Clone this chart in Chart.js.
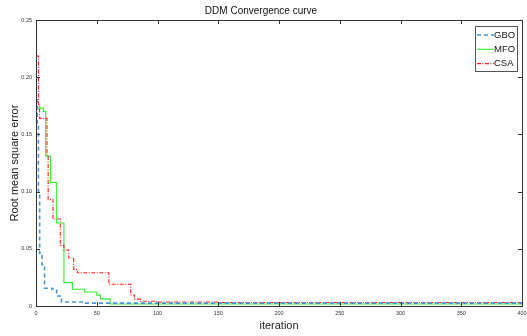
<!DOCTYPE html>
<html>
<head>
<meta charset="utf-8">
<script src="https://cdn.jsdelivr.net/npm/chart.js@4"></script>
<style>
  html, body { margin: 0; padding: 0; background: #fff; }
  #wrap { width: 527px; height: 336px; }
</style>
</head>
<body>
<div id="wrap"><canvas id="chart" width="527" height="336"></canvas></div>
<script>
const xTicks = [0, 50, 100, 150, 200, 250, 300, 350, 400];
const yTicks = [0, 0.05, 0.1, 0.15, 0.2, 0.25];

// iteration where the best value changes, and the new value
const gboIter = [0, 1, 2, 3, 5, 7, 13, 17, 21, 40, 400];
const gboRmse = [0.18, 0.16, 0.1, 0.046, 0.036, 0.0155, 0.0148, 0.0087, 0.0035, 0.0025, 0.0018];

const mfoIter = [0, 6, 8, 12, 17, 23, 30, 40, 50, 53, 61, 400];
const mfoRmse = [0.173, 0.17, 0.131, 0.108, 0.0725, 0.0204, 0.0146, 0.0122, 0.0095, 0.0062, 0.0018, 0.0012];

const csaIter = [0, 2, 3, 9, 10, 14, 20, 23, 27, 31, 34, 60, 78, 81, 86, 100, 150, 400];
const csaRmse = [0.2185, 0.176, 0.164, 0.132, 0.093, 0.076, 0.053, 0.049, 0.042, 0.032, 0.029, 0.019, 0.0096, 0.006, 0.0042, 0.0035, 0.003, 0.0027];

const FONT = '"Liberation Sans Narrow", "Liberation Sans", Arial, sans-serif';

const toPoints = (xs, ys) => xs.map((x, i) => ({x, y: ys[i]}));

const boxAndTicks = {
  id: 'boxAndTicks',
  afterDraw(chart) {
    const {ctx, chartArea: {left, right, top, bottom}, scales: {x, y}} = chart;
    ctx.save();
    ctx.strokeStyle = '#333';
    ctx.lineWidth = 1;
    ctx.strokeRect(Math.round(left) + 0.5, Math.round(top) + 0.5, Math.round(right - left), Math.round(bottom - top));
    ctx.beginPath();
    xTicks.forEach(v => {
      const px = Math.round(x.getPixelForValue(v)) + 0.5;
      ctx.moveTo(px, bottom); ctx.lineTo(px, bottom - 4);
      ctx.moveTo(px, top); ctx.lineTo(px, top + 4);
    });
    yTicks.forEach(v => {
      const py = Math.round(y.getPixelForValue(v)) + 0.5;
      ctx.moveTo(left, py); ctx.lineTo(left + 4, py);
      ctx.moveTo(right, py); ctx.lineTo(right - 4, py);
    });
    ctx.stroke();

    // legend box
    const lx = 475, ly = 26, lw = 42, lh = 45;
    ctx.fillStyle = '#fff';
    ctx.fillRect(lx, ly, lw, lh);
    ctx.strokeStyle = '#555';
    ctx.strokeRect(lx + 0.5, ly + 0.5, lw, lh);
    ctx.font = '9.5px ' + FONT;
    ctx.textBaseline = 'middle';
    chart.data.datasets.forEach((ds, i) => {
      const yy = ly + 9 + i * 14.3;
      ctx.strokeStyle = ds.borderColor;
      ctx.lineWidth = ds.borderWidth;
      ctx.setLineDash(ds.borderDash || []);
      ctx.beginPath();
      ctx.moveTo(lx + 2, yy); ctx.lineTo(lx + 19, yy);
      ctx.stroke();
      ctx.setLineDash([]);
      ctx.fillStyle = '#111';
      ctx.fillText(ds.label, lx + 19, yy);
    });
    ctx.restore();
  }
};

new Chart(document.getElementById('chart'), {
  type: 'line',
  data: {
    datasets: [
      {
        label: 'GBO',
        data: toPoints(gboIter, gboRmse),
        borderColor: '#4a94d8',
        borderWidth: 1.6,
        borderDash: [4, 3],
        stepped: true,
        pointRadius: 0,
        order: 0
      },
      {
        label: 'MFO',
        data: toPoints(mfoIter, mfoRmse),
        borderColor: '#2ef02e',
        borderWidth: 1.1,
        stepped: true,
        pointRadius: 0,
        order: 2
      },
      {
        label: 'CSA',
        data: toPoints(csaIter, csaRmse),
        borderColor: '#ff1f1f',
        borderWidth: 1.1,
        borderDash: [4, 1.5, 1, 1.5],
        stepped: true,
        pointRadius: 0,
        order: 1
      }
    ]
  },
  options: {
    responsive: false,
    animation: false,
    layout: {autoPadding: false, padding: {left: 0, right: 5, top: 0, bottom: 0}},
    plugins: {
      legend: {display: false},
      tooltip: {enabled: false},
      title: {
        display: true,
        text: 'DDM Convergence curve',
        color: '#111',
        font: {family: FONT, size: 10, weight: 'normal'},
        padding: {top: 5, bottom: 3}
      }
    },
    scales: {
      x: {
        type: 'linear',
        min: 0,
        max: 400,
        afterBuildTicks: s => { s.ticks = xTicks.map(value => ({value})); },
        afterFit: s => { s.height = 30; s.paddingLeft = 0; s.paddingRight = 0; },
        grid: {display: false, drawTicks: false, tickLength: 0},
        border: {display: false},
        ticks: {font: {family: FONT, size: 5.5}, color: '#333', padding: 4, maxRotation: 0},
        title: {
          display: true,
          text: 'iteration',
          color: '#222',
          font: {family: FONT, size: 11},
          padding: {top: 1, bottom: 3}
        }
      },
      y: {
        type: 'linear',
        min: 0,
        max: 0.25,
        afterBuildTicks: s => { s.ticks = yTicks.map(value => ({value})); },
        afterFit: s => { s.width = 36; s.paddingTop = 0; s.paddingBottom = 0; },
        grid: {display: false, drawTicks: false, tickLength: 0},
        border: {display: false},
        ticks: {font: {family: FONT, size: 5.5}, color: '#333', padding: 4},
        title: {
          display: true,
          text: 'Root mean square error',
          color: '#222',
          font: {family: FONT, size: 11},
          padding: {top: 8, bottom: 4}
        }
      }
    }
  },
  plugins: [boxAndTicks]
});
</script>
</body>
</html>
